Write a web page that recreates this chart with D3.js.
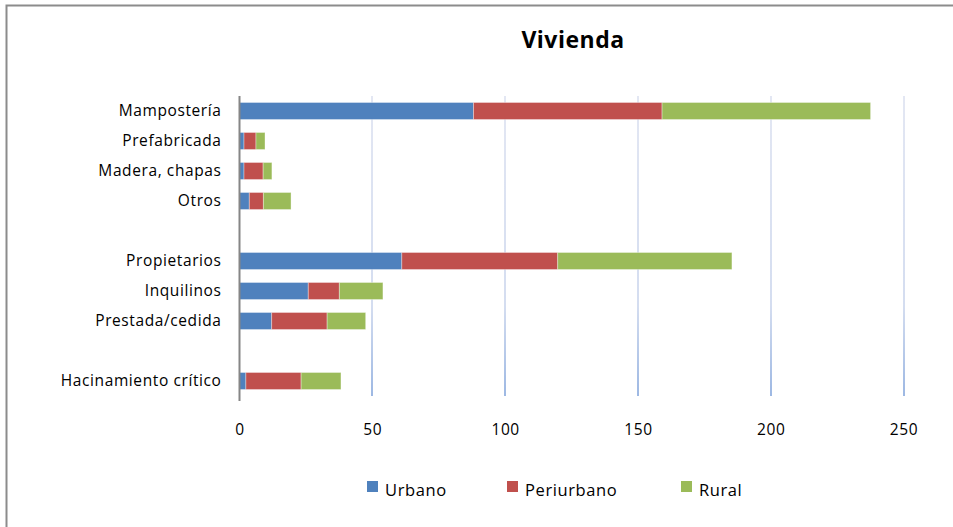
<!DOCTYPE html>
<html>
<head>
<meta charset="utf-8">
<script src="https://cdn.jsdelivr.net/npm/d3@7"></script>
<style>
  body { margin: 0; background: #fff; }
  text { font-family: "Open Sans", Lato, sans-serif; fill: #000; }
</style>
</head>
<body>
<svg id="chart" width="953" height="527"></svg>
<script>
// categories, top to bottom ("" rows are the empty separators)
var categories = ["Mampostería", "Prefabricada", "Madera, chapas", "Otros", "",
                  "Propietarios", "Inquilinos", "Prestada/cedida", " ", "Hacinamiento crítico"];
var urbano     = [88.1, 1.7, 1.7, 3.7, 0, 61.1, 25.9, 12.1, 0, 2.4];
var periurbano = [71.0, 4.5, 7.2, 5.3, 0, 58.7, 11.7, 20.9, 0, 20.8];
var rural      = [78.5, 3.4, 3.3, 10.4, 0, 65.6, 16.4, 14.5, 0, 15.0];
var seriesNames = ["Urbano", "Periurbano", "Rural"];
var xTicks = [0, 50, 100, 150, 200, 250];

var colors = ["#4f81bd", "#c0504d", "#9bbb59"];
var font = "'Open Sans', Lato, sans-serif";

var svg = d3.select("#chart");

// outer frame
svg.append("rect")
  .attr("x", 6.5).attr("y", 5.5)
  .attr("width", 960).attr("height", 540)
  .attr("fill", "none")
  .attr("stroke", "#8c8c8c")
  .attr("stroke-width", 2);

var x = d3.scaleLinear().domain([0, 250]).range([239.5, 903.5]);
var y = d3.scaleBand().domain(categories).range([96, 396])
  .paddingInner(0.433).paddingOuter(0.2165);

// gradient for gridlines
var defs = svg.append("defs");
var grad = defs.append("linearGradient")
  .attr("id", "gridGrad")
  .attr("gradientUnits", "userSpaceOnUse")
  .attr("x1", 0).attr("y1", 96).attr("x2", 0).attr("y2", 396);
grad.append("stop").attr("offset", "0%").attr("stop-color", "#e3e7f3");
grad.append("stop").attr("offset", "70%").attr("stop-color", "#d4ddf0");
grad.append("stop").attr("offset", "100%").attr("stop-color", "#9db8e3");

// gridlines
svg.append("g")
  .selectAll("rect")
  .data(xTicks.slice(1))
  .enter().append("rect")
  .attr("x", function(d) { return Math.round(x(d)) - 1; })
  .attr("y", 96)
  .attr("width", 2)
  .attr("height", 300)
  .attr("fill", "url(#gridGrad)");

// stacked data
var rows = categories.map(function(c, i) {
  return { cat: c, Urbano: urbano[i], Periurbano: periurbano[i], Rural: rural[i] };
});
var stack = d3.stack().keys(seriesNames)(rows);

svg.append("g")
  .selectAll("g")
  .data(stack)
  .enter().append("g")
  .attr("fill", function(d, i) { return colors[i]; })
  .selectAll("rect")
  .data(function(d) { return d; })
  .enter().append("rect")
  .attr("x", function(d) { return x(d[0]); })
  .attr("y", function(d) { return y(d.data.cat); })
  .attr("width", function(d) { return Math.max(0, x(d[1]) - x(d[0])); })
  .attr("height", y.bandwidth())
  .attr("stroke", "rgba(255,255,255,0.35)")
  .attr("stroke-width", 1);

// vertical axis line
svg.append("line")
  .attr("x1", x(0)).attr("x2", x(0))
  .attr("y1", 96).attr("y2", 401)
  .attr("stroke", "#868686")
  .attr("stroke-width", 2);

// category labels
var yAxis = svg.append("g")
  .attr("transform", "translate(" + (x(0) - 1) + ",0)")
  .call(d3.axisLeft(y).tickSize(0).tickPadding(17));
yAxis.select(".domain").remove();
yAxis.selectAll("text")
  .style("font-size", "15.5px")
  .style("letter-spacing", "0.6px")
  .style("font-family", font)
  .attr("fill", "#000");

// value labels
var xAxis = svg.append("g")
  .attr("transform", "translate(0,396)")
  .call(d3.axisBottom(x).tickValues(xTicks).tickSize(0).tickPadding(28));
xAxis.select(".domain").remove();
xAxis.selectAll("text")
  .style("font-size", "15.5px")
  .style("letter-spacing", "0.6px")
  .style("font-family", font)
  .attr("fill", "#000");

// title
svg.append("text")
  .attr("x", 573).attr("y", 48)
  .attr("text-anchor", "middle")
  .style("font-size", "23px")
  .style("letter-spacing", "0.5px")
  .style("font-weight", "bold")
  .text("Vivienda");

// legend
var legendX = [367, 507, 681];
var legend = svg.append("g")
  .selectAll("g")
  .data(seriesNames)
  .enter().append("g")
  .attr("transform", function(d, i) { return "translate(" + legendX[i] + ",481)"; });
legend.append("rect")
  .attr("width", 11).attr("height", 11)
  .attr("fill", function(d, i) { return colors[i]; });
legend.append("text")
  .attr("x", 18).attr("y", 15)
  .style("font-size", "16.5px")
  .style("letter-spacing", "0.6px")
  .text(function(d) { return d; });
</script>
</body>
</html>
